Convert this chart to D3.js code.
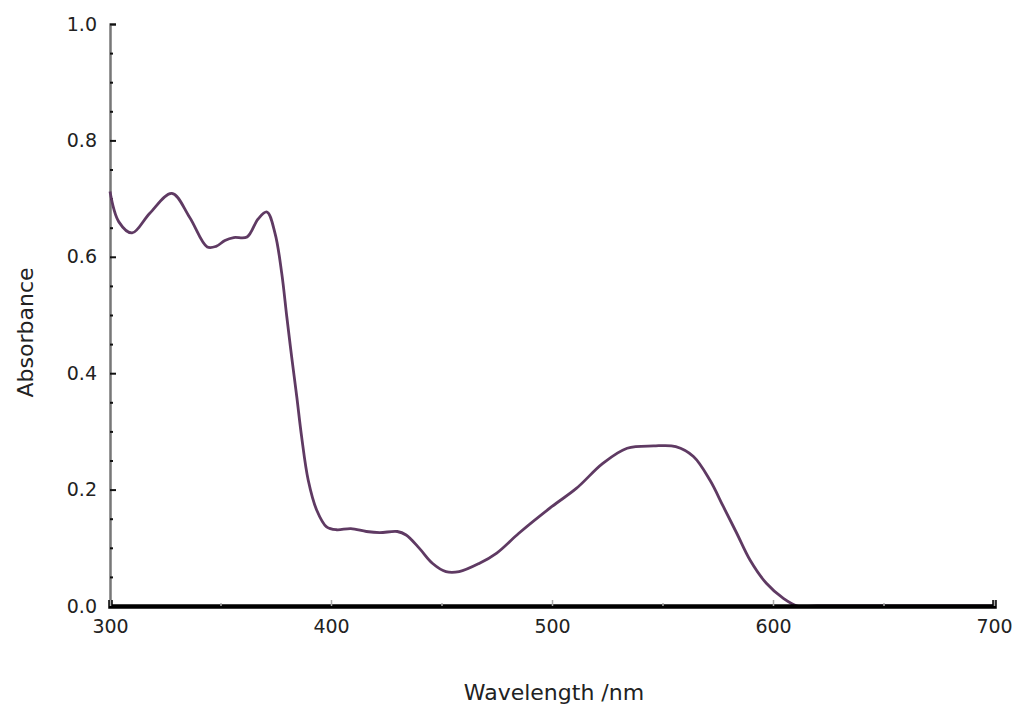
<!DOCTYPE html>
<html>
<head>
<meta charset="utf-8">
<script src="https://cdn.jsdelivr.net/npm/d3@7"></script>
<style>
  body { margin: 0; background: #fff; }
  svg { display: block; }
  text { font-family: "DejaVu Sans", sans-serif; fill: #222; }
</style>
</head>
<body>
<div id="chart"></div>
<script>
// wavelength (nm) and absorbance
const wavelength = [300, 304, 310, 318, 328, 336, 344, 348, 352, 356, 362, 367, 371,
  374.7, 377.7, 380, 382.2, 384.5, 386.7, 389.7, 393.5, 398, 402.5, 409, 416, 422, 430,
  434, 440, 446, 452, 458, 467, 475, 485, 500, 511, 523, 534, 546, 556, 564, 571.5,
  577.5, 583.6, 589.6, 597, 604.7, 611, 620, 700];
const absorbance = [0.712, 0.66, 0.641, 0.675, 0.709, 0.668, 0.617, 0.618, 0.628, 0.633,
  0.634, 0.665, 0.677, 0.640, 0.572, 0.497, 0.428, 0.360, 0.291, 0.216, 0.165, 0.136,
  0.131, 0.133, 0.128, 0.126, 0.128, 0.122, 0.099, 0.073, 0.059, 0.059, 0.073, 0.091,
  0.125, 0.171, 0.202, 0.245, 0.271, 0.275, 0.274, 0.257, 0.216, 0.171, 0.125, 0.079,
  0.039, 0.013, 0.0, 0.0, 0.0];

const xTicks = [300, 400, 500, 600, 700];
const xMinorTicks = [350, 450, 550, 650];
const yTicks = [0, 0.2, 0.4, 0.6, 0.8, 1.0];
const yMinorTicks = d3.range(0, 1.0001, 0.05).filter(v => Math.round(v * 100) % 20 !== 0);

const width = 1019;
const height = 706;
const margin = { top: 24, right: 25, bottom: 100, left: 110 };

const svg = d3.select('#chart')
  .append('svg')
  .attr('width', width)
  .attr('height', height);

const xScale = d3.scaleLinear()
  .domain([300, 700])
  .range([margin.left, width - margin.right]);

const yScale = d3.scaleLinear()
  .domain([0, 1])
  .range([height - margin.bottom, margin.top]);

const data = wavelength.map((w, i) => ({ w, a: absorbance[i] }));

// y axis (grey line, ticks pointing inward)
const yAxis = svg.append('g')
  .attr('transform', `translate(${margin.left},0)`)
  .call(d3.axisLeft(yScale).tickValues(yTicks).tickFormat(d3.format('.1f'))
    .tickSize(-6).tickPadding(13));
yAxis.select('.domain').attr('stroke', '#777').attr('stroke-width', 2.5);
yAxis.selectAll('.tick line').attr('stroke', '#111').attr('stroke-width', 2);
yAxis.selectAll('text').style('font-size', '19px');

svg.append('g')
  .attr('transform', `translate(${margin.left},0)`)
  .call(d3.axisLeft(yScale).tickValues(yMinorTicks).tickFormat('').tickSize(-3))
  .call(g => g.select('.domain').remove())
  .selectAll('.tick line').attr('stroke', '#111').attr('stroke-width', 2);

// spectrum
svg.append('path')
  .datum(data)
  .attr('fill', 'none')
  .attr('stroke', '#5f3a63')
  .attr('stroke-width', 2.8)
  .attr('d', d3.line()
    .x(d => xScale(d.w))
    .y(d => yScale(d.a))
    .curve(d3.curveCatmullRom.alpha(0.5)));

// x axis (thick black line)
const xAxis = svg.append('g')
  .attr('transform', `translate(0,${height - margin.bottom})`)
  .call(d3.axisBottom(xScale).tickValues(xTicks).tickFormat(d3.format('d'))
    .tickSize(-6).tickPadding(14));
xAxis.select('.domain').attr('stroke', '#000').attr('stroke-width', 4.5);
xAxis.selectAll('.tick line').attr('stroke', '#aaa').attr('stroke-width', 1.5);
xAxis.selectAll('text').style('font-size', '19px');

svg.append('g')
  .attr('transform', `translate(0,${height - margin.bottom})`)
  .call(d3.axisBottom(xScale).tickValues(xMinorTicks).tickFormat('').tickSize(-3))
  .call(g => g.select('.domain').remove())
  .selectAll('.tick line').attr('stroke', '#aaa').attr('stroke-width', 1.5);

// axis titles
svg.append('text')
  .attr('x', (margin.left + width - margin.right) / 2 + 2)
  .attr('y', 700)
  .attr('text-anchor', 'middle')
  .style('font-size', '22px')
  .text('Wavelength /nm');

svg.append('text')
  .attr('transform', `translate(33, ${yScale(0.47)}) rotate(-90)`)
  .attr('text-anchor', 'middle')
  .style('font-size', '22px')
  .text('Absorbance');
</script>
</body>
</html>
